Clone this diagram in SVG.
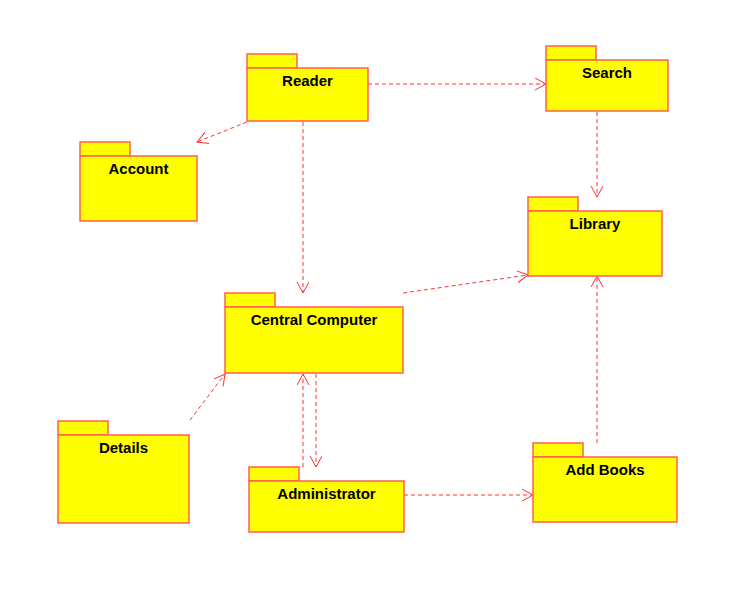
<svg xmlns="http://www.w3.org/2000/svg" width="746" height="603" viewBox="0 0 746 603">
<style>
.pk{fill:#ffff00;stroke:#ff6050;stroke-width:1.5}
.lb{font-family:"Liberation Sans",Arial,sans-serif;font-weight:bold;font-size:15px;fill:#000;text-anchor:middle}
.dep{fill:none;stroke:#ff3030;stroke-width:1;stroke-dasharray:4,3}
</style>
<defs>
<marker id="ar" markerWidth="14" markerHeight="14" refX="11" refY="6" orient="auto" markerUnits="userSpaceOnUse">
<path d="M0,0 L11,6 L0,12" fill="none" stroke="#ff3030" stroke-width="1"/>
</marker>
</defs>
<rect width="746" height="603" fill="#fff"/>
<g id="connectors">
<line class="dep" x1="368" y1="84" x2="546" y2="84" marker-end="url(#ar)"/>
<line class="dep" x1="247" y1="122" x2="197" y2="142" marker-end="url(#ar)"/>
<line class="dep" x1="303" y1="122" x2="303" y2="293" marker-end="url(#ar)"/>
<line class="dep" x1="597" y1="112" x2="597" y2="197" marker-end="url(#ar)"/>
<line class="dep" x1="403" y1="293" x2="528" y2="275" marker-end="url(#ar)"/>
<line class="dep" x1="190" y1="420" x2="225" y2="374" marker-end="url(#ar)"/>
<line class="dep" x1="303" y1="467" x2="303" y2="374" marker-end="url(#ar)"/>
<line class="dep" x1="316" y1="374" x2="316" y2="467" marker-end="url(#ar)"/>
<line class="dep" x1="404" y1="495" x2="533" y2="495" marker-end="url(#ar)"/>
<line class="dep" x1="597" y1="443" x2="597" y2="276" marker-end="url(#ar)"/>
</g>
<g id="reader">
<rect class="pk" x="247" y="54" width="50" height="14"/>
<rect class="pk" x="247" y="68" width="121" height="53"/>
<text class="lb" x="307.5" y="86">Reader</text>
</g>
<g id="search">
<rect class="pk" x="546" y="46" width="50" height="14"/>
<rect class="pk" x="546" y="60" width="122" height="51"/>
<text class="lb" x="607" y="78">Search</text>
</g>
<g id="account">
<rect class="pk" x="80" y="142" width="50" height="14"/>
<rect class="pk" x="80" y="156" width="117" height="65"/>
<text class="lb" x="138.5" y="174">Account</text>
</g>
<g id="library">
<rect class="pk" x="528" y="197" width="50" height="14"/>
<rect class="pk" x="528" y="211" width="134" height="65"/>
<text class="lb" x="595" y="229">Library</text>
</g>
<g id="central-computer">
<rect class="pk" x="225" y="293" width="50" height="14"/>
<rect class="pk" x="225" y="307" width="178" height="66"/>
<text class="lb" x="314" y="325">Central Computer</text>
</g>
<g id="details">
<rect class="pk" x="58" y="421" width="50" height="14"/>
<rect class="pk" x="58" y="435" width="131" height="88"/>
<text class="lb" x="123.5" y="453">Details</text>
</g>
<g id="administrator">
<rect class="pk" x="249" y="467" width="50" height="14"/>
<rect class="pk" x="249" y="481" width="155" height="51"/>
<text class="lb" x="326.5" y="499">Administrator</text>
</g>
<g id="add-books">
<rect class="pk" x="533" y="443" width="50" height="14"/>
<rect class="pk" x="533" y="457" width="144" height="65"/>
<text class="lb" x="605" y="475">Add Books</text>
</g>
</svg>
